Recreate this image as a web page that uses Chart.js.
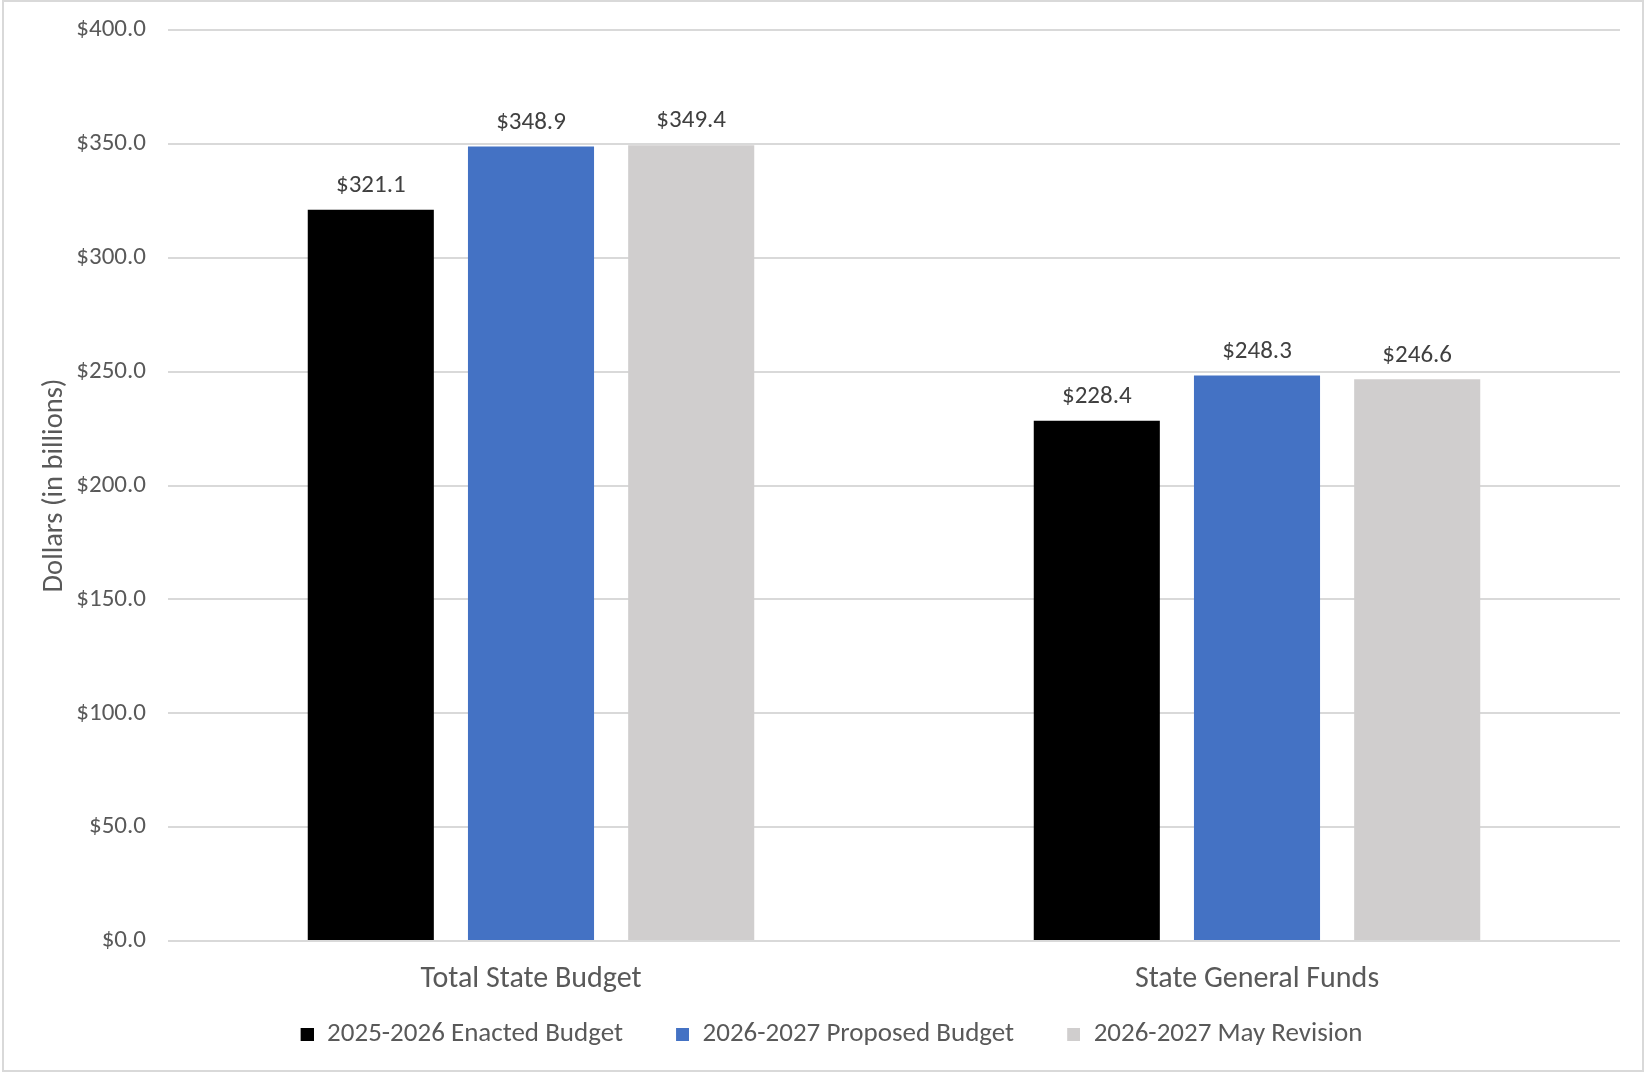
<!DOCTYPE html>
<html>
<head>
<meta charset="utf-8">
<script src="https://cdn.jsdelivr.net/npm/chart.js@4.4.1/dist/chart.umd.min.js"></script>
<style>
  html, body { margin: 0; padding: 0; background: #ffffff; }
  #wrap { position: relative; width: 1644px; height: 1072px; }
  #frame { position: absolute; left: 2px; top: 0px; width: 1638px; height: 1068px; border: 2px solid #d9d9d9; pointer-events: none; }
  canvas { display: block; }
</style>
</head>
<body>
<div id="wrap">
  <canvas id="c" width="1644" height="1072"></canvas>
  <div id="frame"></div>
</div>
<script>
const categories = ["Total State Budget", "State General Funds"];
const seriesNames = ["2025-2026 Enacted Budget", "2026-2027 Proposed Budget", "2026-2027 May Revision"];
const enacted2025 = [321.1, 228.4];
const proposed2026 = [348.9, 248.3];
const mayRevision2026 = [349.4, 246.6];
const seriesColors = ["#000000", "#4472C4", "#D0CECE"];
const yTicks = [0, 50, 100, 150, 200, 250, 300, 350, 400];

const FONT = "Carlito, Calibri, Lato, sans-serif";
const GRAY = "#595959";

// legend swatches: a 13px square at the right end of a wider transparent strip (spacing between items)
const SW_W = 56, SW_SQ = 13;
const legendSwatches = seriesColors.map(col => {
  const cv = document.createElement("canvas");
  cv.width = SW_W; cv.height = SW_SQ;
  const g = cv.getContext("2d");
  g.fillStyle = col;
  g.fillRect(SW_W - SW_SQ, 0, SW_SQ, SW_SQ);
  return cv;
});

const valueLabels = {
  id: "valueLabels",
  afterDatasetsDraw(chart) {
    const ctx = chart.ctx;
    ctx.save();
    ctx.font = "25px " + FONT;
    ctx.fillStyle = "#404040";
    ctx.textAlign = "center";
    ctx.textBaseline = "middle";
    chart.data.datasets.forEach((ds, i) => {
      const meta = chart.getDatasetMeta(i);
      meta.data.forEach((el, j) => {
        ctx.fillText("$" + ds.data[j].toFixed(1), el.x, el.y - 24);
      });
    });
    ctx.restore();
  }
};

new Chart(document.getElementById("c"), {
  type: "bar",
  data: {
    labels: categories,
    datasets: [
      { label: seriesNames[0], data: enacted2025, backgroundColor: seriesColors[0] },
      { label: seriesNames[1], data: proposed2026, backgroundColor: seriesColors[1] },
      { label: seriesNames[2], data: mayRevision2026, backgroundColor: seriesColors[2] }
    ]
  },
  options: {
    responsive: false,
    animation: false,
    devicePixelRatio: 1,
    categoryPercentage: 0.662,
    barPercentage: 0.787,
    layout: { padding: { left: 0, right: 24, top: 30, bottom: 14 } },
    plugins: {
      tooltip: { enabled: false },
      legend: {
        position: "bottom",
        labels: {
          usePointStyle: true,
          pointStyleWidth: SW_W,
          boxHeight: SW_SQ,
          padding: 10,
          color: GRAY,
          font: { family: FONT, size: 27 },
          generateLabels(chart) {
            const items = Chart.defaults.plugins.legend.labels.generateLabels(chart);
            items.forEach((it, i) => { it.pointStyle = legendSwatches[i]; });
            return items;
          }
        }
      }
    },
    scales: {
      x: {
        grid: { display: false, drawTicks: false },
        border: { display: false },
        ticks: { color: GRAY, font: { family: FONT, size: 30 }, padding: 20 },
        afterFit(scale) { scale.height = 70; }
      },
      y: {
        min: 0,
        max: 400,
        afterBuildTicks(scale) { scale.ticks = yTicks.map(v => ({ value: v })); },
        grid: { color: "#d9d9d9", lineWidth: 2, drawTicks: true, tickLength: 22, tickColor: "rgba(0,0,0,0)" },
        border: { display: false },
        ticks: {
          color: GRAY,
          font: { family: FONT, size: 25 },
          padding: 0,
          callback: (v) => "$" + Number(v).toFixed(1)
        },
        title: {
          display: true,
          text: "Dollars (in billions)",
          color: GRAY,
          font: { family: FONT, size: 28.5 },
          padding: { top: 38, bottom: 0 }
        },
        afterFit(scale) { scale.width = 168; }
      }
    }
  },
  plugins: [valueLabels]
});
</script>
</body>
</html>
